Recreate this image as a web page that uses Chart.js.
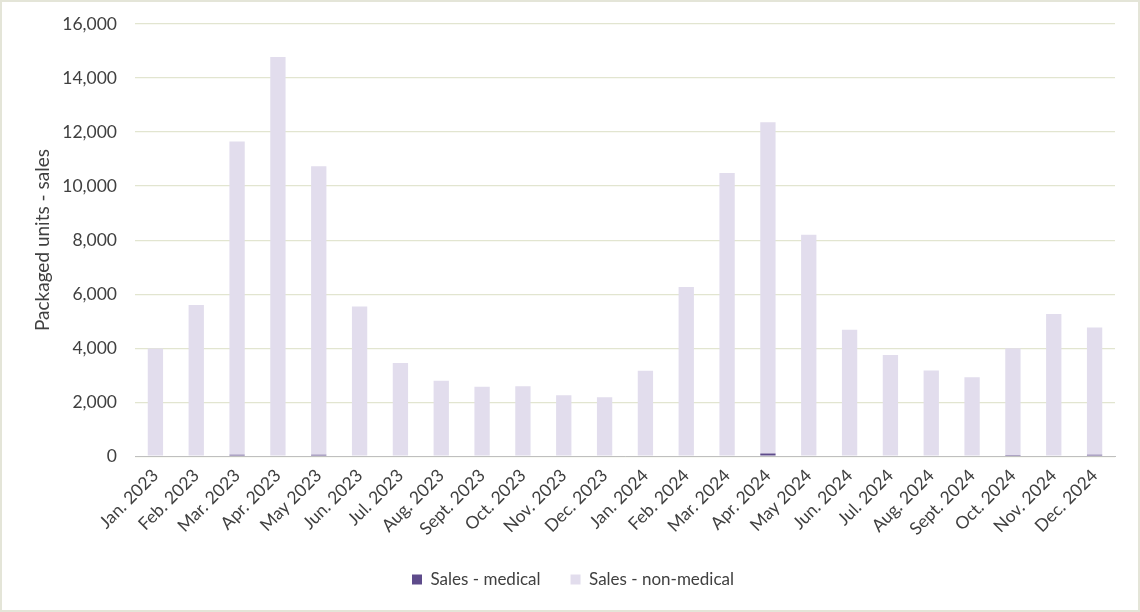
<!DOCTYPE html>
<html>
<head>
<meta charset="utf-8">
<script src="https://cdn.jsdelivr.net/npm/chart.js@4.4.1/dist/chart.umd.min.js"></script>
<style>
  html, body { margin: 0; padding: 0; background: #ffffff; }
  #wrap { width: 1140px; height: 612px; position: relative; }
</style>
</head>
<body>
<div id="wrap"><canvas id="c" width="1140" height="612"></canvas></div>
<script>
const categories = ["Jan. 2023","Feb. 2023","Mar. 2023","Apr. 2023","May 2023","Jun. 2023","Jul. 2023","Aug. 2023","Sept. 2023","Oct. 2023","Nov. 2023","Dec. 2023",
                    "Jan. 2024","Feb. 2024","Mar. 2024","Apr. 2024","May 2024","Jun. 2024","Jul. 2024","Aug. 2024","Sept. 2024","Oct. 2024","Nov. 2024","Dec. 2024"];
const salesMedical = [0, 0, 50, 0, 50, 0, 0, 0, 0, 0, 0, 0,
                      0, 0, 0, 100, 0, 0, 0, 0, 0, 40, 0, 50];
const salesNonMedical = [3990, 5600, 11600, 14780, 10680, 5540, 3450, 2790, 2570, 2590, 2260, 2180,
                         3160, 6260, 10480, 12260, 8200, 4680, 3750, 3170, 2925, 3960, 5260, 4710];
const yTicks = [0, 2000, 4000, 6000, 8000, 10000, 12000, 14000, 16000];
const seriesNames = ["Sales - medical", "Sales - non-medical"];
const yTitle = "Packaged units - sales";

const FONT = "Lato, 'Open Sans', sans-serif";
const TXT = "#404040";

const borderPlugin = {
  id: 'outerBorder',
  afterDraw(chart) {
    const ctx = chart.ctx;
    ctx.save();
    ctx.strokeStyle = '#e4e5d8';
    ctx.lineWidth = 2;
    ctx.strokeRect(1, 1, chart.width - 2, chart.height - 2);
    ctx.restore();
  }
};

new Chart(document.getElementById('c'), {
  type: 'bar',
  data: {
    labels: categories,
    datasets: [
      { label: seriesNames[0], data: salesMedical, backgroundColor: '#5e4b8b', borderWidth: 0,
        barPercentage: 0.375, categoryPercentage: 1.0 },
      { label: seriesNames[1], data: salesNonMedical, backgroundColor: '#e2dded', borderWidth: 0,
        barPercentage: 0.375, categoryPercentage: 1.0 }
    ]
  },
  options: {
    responsive: false,
    animation: false,
    devicePixelRatio: 1,
    layout: { padding: { left: 31, right: 25, top: 24, bottom: 14 } },
    plugins: {
      legend: {
        position: 'bottom',
        labels: {
          boxWidth: 10, boxHeight: 10, padding: 30,
          color: TXT,
          font: { family: FONT, size: 17 }
        }
      },
      tooltip: { enabled: false },
      title: { display: false }
    },
    scales: {
      x: {
        stacked: true,
        grid: { display: false, drawTicks: false },
        border: { display: true, color: '#bfbfbf', width: 1 },
        ticks: {
          color: TXT, font: { family: FONT, size: 17.5 },
          minRotation: 45, maxRotation: 45, autoSkip: false, padding: 9
        },
        afterFit(scale) { scale.height = 84.8; }
      },
      y: {
        stacked: true,
        min: 0, max: 16000,
        grid: { color: '#e2e5d0', lineWidth: 1.2, drawTicks: false },
        border: { display: false },
        afterBuildTicks(scale) { scale.ticks = yTicks.map(v => ({ value: v })); },
        ticks: {
          color: TXT, font: { family: FONT, size: 17.5 }, padding: 18,
          callback: v => v.toLocaleString('en-US')
        },
        title: {
          display: true, text: yTitle, color: TXT,
          font: { family: FONT, size: 19, lineHeight: 1.2 },
          padding: { top: 0, bottom: 0 }
        },
        afterFit(scale) { scale.width = 104; scale.paddingTop = 0; scale.paddingBottom = 0; }
      }
    }
  },
  plugins: [borderPlugin]
});
</script>
</body>
</html>
